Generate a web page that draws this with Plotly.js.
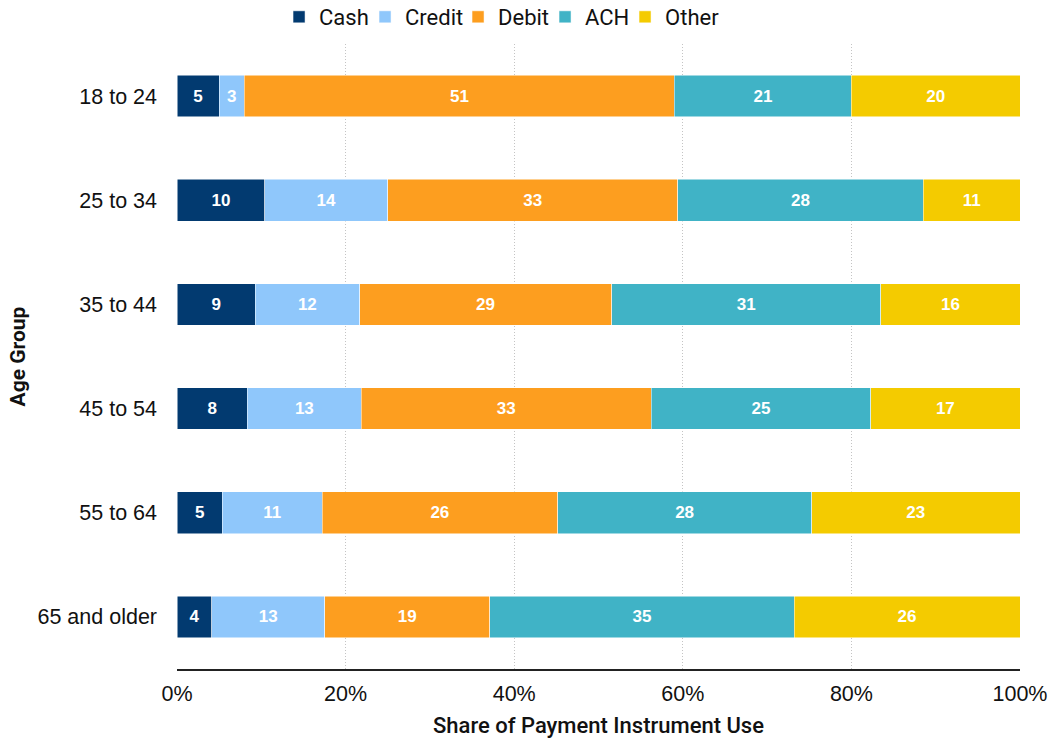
<!DOCTYPE html>
<html><head><meta charset="utf-8">
<script src="https://cdn.plot.ly/plotly-3.0.1.min.js"></script>
<style>html,body{margin:0;padding:0;background:#fff}#chart{width:1053px;height:740px}</style>
</head><body><div id="chart"></div>
<script>
const ageGroups = ["18 to 24","25 to 34","35 to 44","45 to 54","55 to 64","65 and older"];
const cash   = [5, 10, 9, 8, 5, 4];
const credit = [3, 14, 12, 13, 11, 13];
const debit  = [51, 33, 29, 33, 26, 19];
const ach    = [21, 28, 31, 25, 28, 35];
const other  = [20, 11, 16, 17, 23, 26];
const seriesNames = ["Cash","Credit","Debit","ACH","Other"];
const seriesColors = ["#023a70","#8fc7fb","#fd9e1f","#40b3c6","#f4cb00"];
const seriesValues = [cash, credit, debit, ach, other];
const legendWidths = [41, 48, 42, 35, 55];
const xTickVals = [0, 20, 40, 60, 80, 100];
const xTickText = ["0%","20%","40%","60%","80%","100%"];

const traces = seriesValues.map((vals, i) => ({
  type: 'bar', orientation: 'h',
  name: seriesNames[i],
  y: ageGroups, x: vals,
  text: vals.map(String),
  texttemplate: '%{text}',
  textposition: 'inside',
  insidetextanchor: 'middle',
  textangle: 0,
  legendwidth: legendWidths[i],
  textfont: {family: '"Liberation Sans", Arial, sans-serif', size: 17, color: '#ffffff', weight: 'bold'},
  marker: {color: seriesColors[i], line: {color: '#ffffff', width: 0.5}},
  hoverinfo: 'none'
}));

const layout = {
  width: 1053, height: 740,
  margin: {l: 177, r: 33, t: 44, b: 71},
  barmode: 'stack', barnorm: 'percent', bargap: 0.6,
  paper_bgcolor: '#ffffff', plot_bgcolor: '#ffffff',
  font: {family: 'Roboto, Arial, sans-serif', color: '#111111'},
  showlegend: true,
  legend: {orientation: 'h', xref: 'container', x: 0.265, xanchor: 'left',
           yref: 'container', y: 0.977, yanchor: 'middle',
           font: {size: 22, color: '#111111'}, traceorder: 'normal',
           itemwidth: 30, tracegroupgap: 0},
  xaxis: {range: [0, 100], tickmode: 'array', tickvals: xTickVals, ticktext: xTickText,
          showgrid: true, gridcolor: '#c4c4c4', griddash: '1px,2px', gridwidth: 1,
          zeroline: false, showline: true, linecolor: '#222222', linewidth: 2,
          ticks: '', ticklen: 0, ticklabelstandoff: 4,
          tickfont: {family: '"Liberation Sans", Arial, sans-serif', size: 21.5, color: '#111111'},
          title: {text: 'Share of Payment Instrument Use', font: {size: 22, color: '#111111', weight: 500}, standoff: 13}},
  yaxis: {autorange: 'reversed', showgrid: false, zeroline: false, showline: false,
          ticks: '', ticklen: 0, ticklabelstandoff: 19,
          tickfont: {family: '"Liberation Sans", Arial, sans-serif', size: 21.5, color: '#111111'},
          title: {text: 'Age Group', font: {size: 21, color: '#111111', weight: 'bold'}, standoff: 6}}
};
Plotly.newPlot('chart', traces, layout, {displayModeBar: false, staticPlot: true});
</script></body></html>
